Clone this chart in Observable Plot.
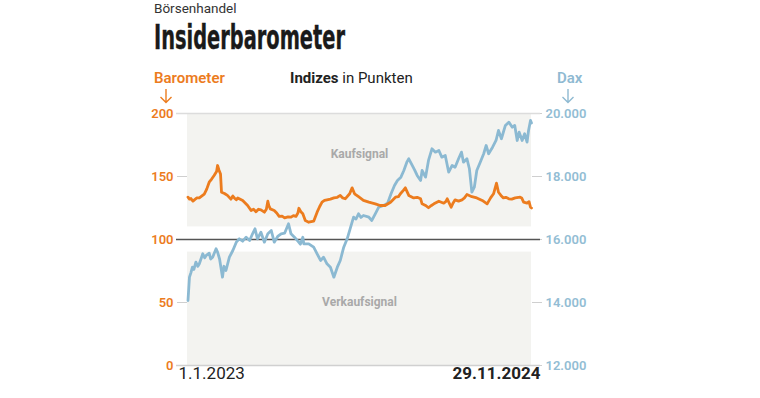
<!DOCTYPE html>
<html>
<head>
<meta charset="utf-8">
<script src="https://cdn.jsdelivr.net/npm/d3@7"></script>
<script src="https://cdn.jsdelivr.net/npm/@observablehq/plot@0.6"></script>
<style>
  html, body { margin: 0; padding: 0; background: #fff; }
  body { width: 760px; height: 398px; position: relative; overflow: hidden; font-family: Roboto, "Noto Sans", sans-serif; color: #222; }
  .abs { position: absolute; white-space: nowrap; }
  #kicker { left: 154px; top: 0px; font-size: 13.5px; line-height: 16px; color: #333; }
  #title { left: 154px; top: 19px; font-size: 34px; line-height: 36px; font-weight: 700; font-family: "Liberation Sans Narrow", "DejaVu Sans Condensed", sans-serif; color: #1a1a1a; transform-origin: 0 0; -webkit-text-stroke: 0.4px #1a1a1a; }
  .hdr { top: 70px; font-size: 15px; line-height: 17px; font-weight: 600; }
  #lbar { left: 154px; color: #ec7c1e; }
  #ldax { left: 557px; color: #8fbad2; }
  #sub { left: 290px; font-weight: 400; color: #222; }
  #sub b { font-weight: 700; }
  svg.arrow { position: absolute; top: 88px; width: 14px; height: 16px; overflow: visible; }
  #abar { left: 159px; }
  #adax { left: 561px; }
  #chart { position: absolute; left: 0; top: 60px; }
</style>
</head>
<body>
<div class="abs" id="kicker">Börsenhandel</div>
<div class="abs" id="title">Insiderbarometer</div>
<div class="abs hdr" id="lbar">Barometer</div>
<div class="abs hdr" id="sub"><b>Indizes</b> in Punkten</div>
<div class="abs hdr" id="ldax">Dax</div>
<svg class="arrow" id="abar" viewBox="0 0 14 16"><path d="M7 1V14.5M1.5 9L7 14.5L12.5 9" fill="none" stroke="#ec7c1e" stroke-width="1.4"/></svg>
<svg class="arrow" id="adax" viewBox="0 0 14 16"><path d="M7 1V14.5M1.5 9L7 14.5L12.5 9" fill="none" stroke="#8fbad2" stroke-width="1.4"/></svg>
<div id="chart"></div>
<script>
// Insiderbarometer (left scale)
const baroDates = ["2023-01-02","2023-01-05","2023-01-08","2023-01-12","2023-01-15","2023-01-20","2023-01-25","2023-02-04","2023-02-09","2023-02-14","2023-02-19","2023-02-24","2023-03-01","2023-03-03","2023-03-06","2023-03-09","2023-03-11","2023-03-17","2023-03-23","2023-03-30","2023-04-03","2023-04-06","2023-04-10","2023-04-13","2023-04-18","2023-04-23","2023-04-28","2023-05-03","2023-05-10","2023-05-15","2023-05-20","2023-05-25","2023-05-30","2023-06-06","2023-06-10","2023-06-13","2023-06-15","2023-06-18","2023-06-26","2023-07-01","2023-07-06","2023-07-12","2023-07-17","2023-07-24","2023-07-30","2023-08-04","2023-08-09","2023-08-13","2023-08-15","2023-08-19","2023-08-23","2023-08-28","2023-09-04","2023-09-14","2023-09-21","2023-09-26","2023-10-01","2023-10-06","2023-10-11","2023-10-18","2023-10-25","2023-11-01","2023-11-07","2023-11-12","2023-11-17","2023-11-26","2023-12-01","2023-12-06","2023-12-14","2023-12-24","2024-01-04","2024-01-17","2024-01-27","2024-02-06","2024-02-17","2024-02-27","2024-03-04","2024-03-08","2024-03-14","2024-03-18","2024-03-25","2024-04-04","2024-04-11","2024-04-18","2024-04-21","2024-04-28","2024-05-04","2024-05-10","2024-05-15","2024-05-25","2024-06-04","2024-06-08","2024-06-11","2024-06-19","2024-06-23","2024-06-27","2024-07-04","2024-07-11","2024-07-16","2024-07-21","2024-07-31","2024-08-10","2024-08-21","2024-08-31","2024-09-07","2024-09-13","2024-09-19","2024-09-23","2024-09-28","2024-10-03","2024-10-08","2024-10-14","2024-10-20","2024-10-27","2024-11-06","2024-11-09","2024-11-13","2024-11-20","2024-11-24","2024-11-27","2024-11-29"];
const baroValues = [133.6,132,132.5,130.5,131.5,133,133,136,140,145.5,148,150.8,154,158.7,155,152,137.5,136.5,135,132,134.5,133,131.5,133,132,131,129,127,123,124,122,124,123.5,121.7,124,130.4,127,124.3,123,121,118.3,118.5,117.2,118,117.7,119,118.3,121,124.8,122,120.4,115,113.7,114.5,121.7,126,129.6,131,131.5,132,133,133.5,135,133,132.3,136.3,141,136.3,134,131,129.6,128.3,127,127,129.6,133.6,134,136.3,139,141,135,133,133.5,132.3,128.3,127,125.2,127,128.3,130.4,128.8,130,132.3,125.6,129,131.5,130.5,131.5,133,135.7,134,133,131,128.3,133,136.3,144.7,137.5,135,133,133.5,132.3,132,133,133.6,133,129.6,128.8,130,125.6,125];

// Dax (right scale)
const daxDates = ["2023-01-02","2023-01-05","2023-01-08","2023-01-11","2023-01-14","2023-01-18","2023-01-22","2023-01-25","2023-02-01","2023-02-05","2023-02-08","2023-02-14","2023-02-17","2023-02-21","2023-02-28","2023-03-03","2023-03-07","2023-03-13","2023-03-16","2023-03-20","2023-03-27","2023-04-03","2023-04-10","2023-04-16","2023-04-23","2023-04-30","2023-05-07","2023-05-13","2023-05-18","2023-05-23","2023-05-30","2023-06-06","2023-06-13","2023-06-20","2023-06-26","2023-07-03","2023-07-10","2023-07-17","2023-07-25","2023-07-30","2023-08-06","2023-08-13","2023-08-18","2023-08-23","2023-08-25","2023-09-04","2023-09-14","2023-09-21","2023-09-28","2023-10-04","2023-10-11","2023-10-18","2023-10-25","2023-11-01","2023-11-07","2023-11-14","2023-11-21","2023-11-28","2023-12-04","2023-12-09","2023-12-14","2023-12-19","2023-12-24","2024-01-04","2024-01-10","2024-01-17","2024-01-24","2024-02-03","2024-02-11","2024-02-18","2024-02-25","2024-03-02","2024-03-09","2024-03-15","2024-03-21","2024-03-25","2024-04-01","2024-04-06","2024-04-11","2024-04-18","2024-04-21","2024-04-28","2024-05-04","2024-05-11","2024-05-18","2024-05-25","2024-05-31","2024-06-07","2024-06-14","2024-06-21","2024-06-27","2024-07-04","2024-07-10","2024-07-14","2024-07-21","2024-07-26","2024-07-31","2024-08-05","2024-08-10","2024-08-17","2024-08-24","2024-08-29","2024-09-03","2024-09-11","2024-09-18","2024-09-23","2024-09-29","2024-10-07","2024-10-14","2024-10-21","2024-10-26","2024-10-31","2024-11-04","2024-11-10","2024-11-15","2024-11-20","2024-11-23","2024-11-27","2024-11-29"];
const daxValues = [14064,14804,14950,15121,15050,15280,15150,15229,15546,15420,15493,15565,15380,15438,15705,15600,15387,14804,15150,15016,15438,15651,15915,16022,15946,16073,15969,16181,16340,16022,16232,15915,16181,16286,15915,16096,16181,16200,16499,16181,16073,15946,15850,16073,15864,15864,15756,15546,15334,15438,15229,15121,14804,15121,15334,15756,16022,16390,16708,16650,16816,16700,16762,16708,16604,16816,17026,17080,17153,17451,17715,17874,17979,18191,18455,18563,18350,18200,18033,17874,18191,17979,18509,18880,18773,18826,18614,18668,18137,18350,18296,18563,18773,18455,18563,18245,17503,17661,18191,18455,18722,18985,18722,18931,19144,19461,19198,19620,19725,19566,19620,19144,19408,19144,19357,19090,19461,19779,19700];

const baroTicks = [0, 50, 100, 150, 200];
const daxBase = 12000, daxPerPoint = 40;
const bands = [{lo: 110, hi: 200, label: "Kaufsignal", at: 168}, {lo: 0, hi: 90, label: "Verkaufsignal", at: 50}];
const xLabels = ["1.1.2023", "29.11.2024"];
const xDomain = ["2023-01-01", "2024-11-29"];

const ORANGE = "#ec7c1e", BLUE = "#8bb9d2";
const de = d3.formatLocale({decimal: ",", thousands: ".", grouping: [3], currency: ["", "€"]});
const daxFmt = b => de.format(",")(daxBase + daxPerPoint * b);

const baro = baroDates.map((d, i) => ({date: new Date(d), v: baroValues[i]}));
const dax = daxDates.map((d, i) => ({date: new Date(d), v: (daxValues[i] - daxBase) / daxPerPoint}));

const plot = Plot.plot({
  width: 760,
  height: 338,
  marginLeft: 187,
  marginRight: 229,
  marginTop: 53,
  marginBottom: 33,
  style: {fontFamily: "Roboto, 'Noto Sans', sans-serif", background: "transparent", overflow: "visible"},
  x: {type: "utc", domain: xDomain.map(d => new Date(d)), axis: null},
  y: {domain: [0, 200]},
  marks: [
    Plot.rect(bands, {y1: "lo", y2: "hi", fill: "#f3f3f0"}),
    Plot.text(bands, {y: "at", text: "label", frameAnchor: "middle", fill: "#a9a9a9", fontWeight: 700, fontSize: 12}),
    Plot.axisY({anchor: "left", ticks: baroTicks, tickSize: 10, tickPadding: 4, stroke: "#cfcfcf", fill: ORANGE, fontSize: 13, fontWeight: 600, label: null}),
    Plot.axisY({anchor: "right", ticks: baroTicks, tickSize: 10, tickPadding: 4, tickFormat: daxFmt, stroke: "#cfcfcf", fill: "#93bdd4", fontSize: 13, fontWeight: 600, label: null}),
    Plot.ruleY([200], {stroke: "#dcdcdc", strokeWidth: 1.5, insetLeft: -11, insetRight: -9}),
    Plot.ruleY([0], {stroke: "#d0d0d0", strokeWidth: 1.5, insetLeft: -11, insetRight: -9}),
    Plot.ruleY([100], {stroke: "#555", strokeWidth: 1.5, insetLeft: -11, insetRight: -9}),
    Plot.line(dax, {x: "date", y: "v", stroke: BLUE, strokeWidth: 2.8, curve: "linear"}),
    Plot.line(baro, {x: "date", y: "v", stroke: ORANGE, strokeWidth: 2.8, curve: "linear"}),
    Plot.text([xLabels[0]], {frameAnchor: "bottom-left", text: d => d, textAnchor: "start", dx: -9, dy: 13, fontSize: 17, fill: "#222"}),
    Plot.text([xLabels[1]], {frameAnchor: "bottom-right", text: d => d, textAnchor: "end", dx: 9, dy: 13, fontSize: 17, fontWeight: 700, fill: "#222"})
  ]
});
document.getElementById("chart").appendChild(plot);

// fit the condensed title to its width in the reference
const t = document.getElementById("title");
const w = t.getBoundingClientRect().width;
t.style.transform = `scaleX(${191 / w})`;
</script>
</body>
</html>
